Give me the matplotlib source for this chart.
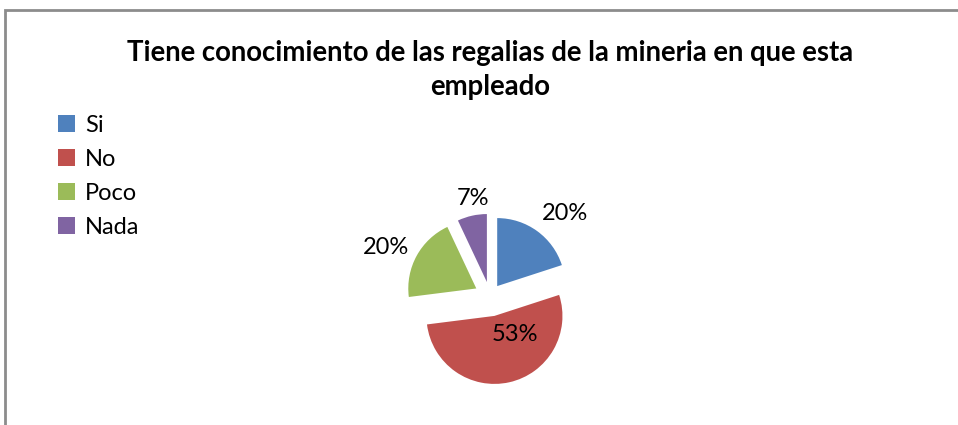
import matplotlib
matplotlib.use("Agg")
import matplotlib.pyplot as plt
import numpy as np
from matplotlib.patches import Rectangle

categories = ["Si", "No", "Poco", "Nada"]
values = [20, 53, 20, 7]
colors = ["#4F81BD", "#C0504D", "#9BBB59", "#8064A2"]
title = "Tiene conocimiento de las regalias de la mineria en que esta\nempleado"

W, H = 958, 425
fig = plt.figure(figsize=(W / 100, H / 100), dpi=100)
fig.patch.set_facecolor("white")

# frame border
fig.patches.append(Rectangle((5 / W, -0.1), 2, 1.1 - 10 / H, transform=fig.transFigure,
                             fill=False, edgecolor="#8c8c8c", linewidth=2))

# axes covering whole figure, 1 data unit = R pixels
cx, cy, R = 490, 296, 68
ax = fig.add_axes([0, 0, 1, 1])
ax.axis("off")

explode = [0.18, 0.30, 0.23, 0.21]
wedges, texts, autotexts = ax.pie(values, colors=colors, startangle=90, counterclock=False,
                                  explode=explode, radius=1, center=(0, 0),
                                  autopct="%1.0f%%", wedgeprops=dict(edgecolor="none"),
                                  textprops=dict(fontsize=17, family="Lato", color="black"))
ax.set_xlim(-cx / R, (W - cx) / R)
ax.set_ylim(-(H - cy) / R, cy / R)
ax.set_aspect("auto")

# label placement: (angle offset in degrees, distance) relative to wedge middle
label_pos = [(-6, 1.64), (20, 0.68), (4, 1.69), (-3, 1.46)]
for w, t, (da, dist) in zip(wedges, autotexts, label_pos):
    mid = np.deg2rad((w.theta1 + w.theta2) / 2 + da)
    t.set_position((dist * np.cos(mid), dist * np.sin(mid)))
    t.set_ha("center")
    t.set_va("center")

fig.text(cx / W, 1 - 70 / H, title, ha="center", va="center", fontsize=19.8,
         fontweight="bold", family="Lato", linespacing=1.38)

leg = fig.legend(wedges, categories, loc="upper left", bbox_to_anchor=(58 / W, 1 - 115 / H),
                 frameon=False, prop=dict(family="Lato", size=17),
                 handlelength=0.7, handleheight=0.7, handletextpad=0.45, labelspacing=0.55,
                 borderaxespad=0, borderpad=0)

fig.savefig("out.png", dpi=100)
